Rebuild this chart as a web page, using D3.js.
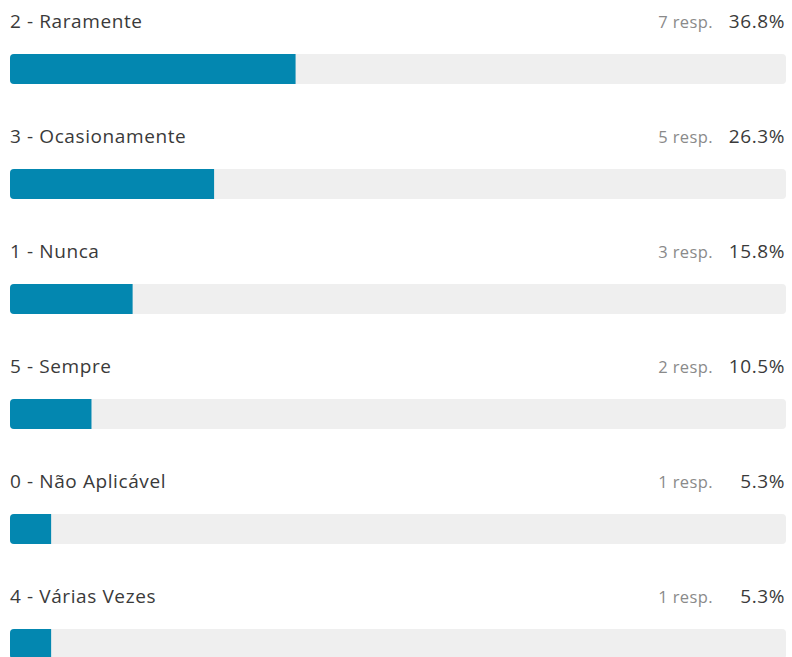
<!DOCTYPE html>
<html><head><meta charset="utf-8">
<script src="https://cdn.jsdelivr.net/npm/d3@7"></script>
<style>body{margin:0;background:#fff;}svg{display:block;}</style>
</head><body>
<script>
const categories = ["2 - Raramente","3 - Ocasionamente","1 - Nunca","5 - Sempre","0 - Não Aplicável","4 - Várias Vezes"];
const responses = [7,5,3,2,1,1];
const percents = [36.8,26.3,15.8,10.5,5.3,5.3];

const W=792,H=657;
const svg=d3.select("body").append("svg").attr("width",W).attr("height",H);
const font="'Open Sans', 'Noto Sans', sans-serif";
const x=d3.scaleLinear().domain([0,100]).range([0,776]);
const y=d3.scaleBand().domain(categories).range([0,690]).paddingInner(0).paddingOuter(0);
const defs=svg.append("defs");
const rows=svg.selectAll("g.row").data(categories).join("g").attr("class","row")
  .attr("transform",d=>`translate(10,${y(d)})`);
rows.each(function(d,i){
  defs.append("clipPath").attr("id","c"+i).append("rect").attr("x",0).attr("y",54).attr("width",776).attr("height",30).attr("rx",4);
});
rows.append("text").attr("x",0).attr("y",28).attr("font-family",font).attr("font-size",19).attr("letter-spacing",0.6).attr("fill","#3a3a3a").text(d=>d);
rows.append("text").attr("x",775).attr("y",28).attr("text-anchor","end").attr("font-family",font).attr("font-size",19).attr("letter-spacing",0.6).attr("fill","#3a3a3a").text((d,i)=>percents[i].toFixed(1)+"%");
rows.append("text").attr("x",703).attr("y",28).attr("text-anchor","end").attr("font-family",font).attr("font-size",16.5).attr("letter-spacing",0.4).attr("fill","#8a8a8a").text((d,i)=>responses[i]+" resp.");
rows.append("rect").attr("x",0).attr("y",54).attr("width",776).attr("height",30).attr("rx",4).attr("fill","#efefef");
rows.append("rect").attr("clip-path",(d,i)=>`url(#c${i})`).attr("x",0).attr("y",54).attr("width",(d,i)=>x(percents[i])).attr("height",30).attr("fill","#0387b0");
</script>
</body></html>
